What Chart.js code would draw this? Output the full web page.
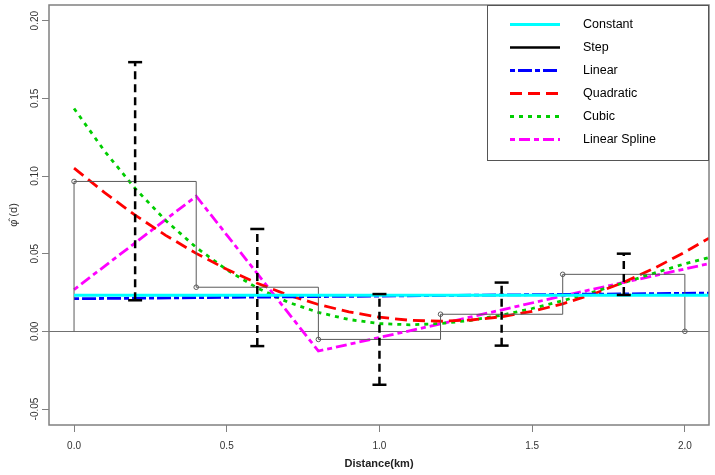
<!DOCTYPE html>
<html><head><meta charset="utf-8">
<script src="https://cdn.jsdelivr.net/npm/chart.js@4"></script>
<style>html,body{margin:0;padding:0;background:#fff}#wrap{width:715px;height:475px}</style>
</head><body><div id="wrap"><canvas id="c" width="715" height="475"></canvas></div>
<script>
// ---- data ----
const distanceGrid = [0,0.1,0.2,0.3,0.4,0.5,0.6,0.7,0.8,0.9,1.0,1.1,1.2,1.3,1.4,1.5,1.6,1.7,1.8,1.9,2.0,2.079];
const quadraticFit = [0.1051,0.0893,0.0748,0.0618,0.0502,0.0399,0.0310,0.0234,0.0173,0.0125,0.0091,0.0071,0.0065,0.0073,0.0094,0.0129,0.0177,0.0240,0.0316,0.0406,0.0510,0.0600];
const cubicFit     = [0.1435,0.1160,0.0920,0.0714,0.0540,0.0396,0.0279,0.0188,0.0122,0.0076,0.0050,0.0042,0.0050,0.0071,0.0104,0.0147,0.0197,0.0253,0.0313,0.0375,0.0435,0.0475];
const lineEnds     = [0, 2.079];
const constantFit  = [0.0232, 0.0232];
const linearFit    = [0.0210, 0.0246];
const splineKnots  = [0, 0.4, 0.8, 1.2, 1.6, 2.079];
const splineFit    = [0.0269, 0.0870, -0.0127, 0.0048, 0.0228, 0.0436];
const stepBreaks   = [0, 0, 0.4, 0.8, 1.2, 1.6, 2.0];
const stepValues   = [0, 0.0965, 0.0284, -0.0052, 0.0110, 0.0367, 0];
const errX         = [0.2, 0.6, 1.0, 1.4, 1.8];
const errLow       = [0.0200, -0.0095, -0.0344, -0.0092, 0.0234];
const errHigh      = [0.1733, 0.0659, 0.0240, 0.0314, 0.0500];
const xTickStep = 0.5, yTickStep = 0.05;

const pts = (xs, ys) => xs.map((x, i) => ({x, y: ys[i]}));
const errorPoints = [];
errX.forEach((x, i) => { errorPoints.push({x, y: errLow[i]}, {x, y: errHigh[i]}, {x, y: null}); });

Chart.defaults.font.family = '"Liberation Sans", Arial, Helvetica, sans-serif';

const framePlugin = {
  id: 'frameLegend',
  afterDraw(chart) {
    const {ctx, chartArea: a} = chart;
    ctx.save();
    ctx.strokeStyle = '#808080'; ctx.lineWidth = 1.5; ctx.setLineDash([]);
    ctx.strokeRect(a.left, a.top, a.width, a.height);
    const w = 222, h = 156, L = a.right - w, T = a.top;
    ctx.fillStyle = '#fff'; ctx.fillRect(L, T, w, h);
    ctx.strokeStyle = '#555'; ctx.lineWidth = 1;
    ctx.strokeRect(L + 0.5, T + 0.5, w - 1, h - 1);
    chart.data.datasets.filter(d => d.inLegend).forEach((d, i) => {
      const y = T + 19.5 + i * 23;
      ctx.beginPath();
      ctx.setLineDash(d.borderDash || []);
      ctx.strokeStyle = d.legendColor || d.borderColor;
      ctx.lineWidth = d.legendWidth || d.borderWidth;
      ctx.lineCap = 'butt';
      ctx.moveTo(L + 23, y); ctx.lineTo(L + 73, y); ctx.stroke();
      ctx.setLineDash([]);
      ctx.fillStyle = '#000';
      ctx.font = '12.5px "Liberation Sans", Arial, sans-serif';
      ctx.textBaseline = 'middle'; ctx.textAlign = 'left';
      ctx.fillText(d.label, L + 96, y);
    });
    ctx.restore();
  }
};

new Chart(document.getElementById('c'), {
  type: 'line',
  data: {
    datasets: [
      {label: 'Constant', inLegend: true, data: pts(lineEnds, constantFit), borderColor: '#00FFFF', borderWidth: 3, pointRadius: 0},
      {label: 'Step', inLegend: true, data: pts(stepBreaks, stepValues), stepped: 'before', borderColor: '#5a5a5a', borderWidth: 1,
       legendColor: '#000', legendWidth: 2.5,
       pointRadius: stepValues.map((v, i) => i === 0 ? 0 : 2.3), pointBorderColor: '#5a5a5a', pointBackgroundColor: 'rgba(255,255,255,0)', pointBorderWidth: 1},
      {label: 'Linear', inLegend: true, data: pts(lineEnds, linearFit), borderColor: '#0000FF', borderWidth: 2.8, borderDash: [5, 3, 14, 3], pointRadius: 0},
      {label: 'Quadratic', inLegend: true, data: pts(distanceGrid, quadraticFit), borderColor: '#FF0000', borderWidth: 2.8, borderDash: [12, 6], pointRadius: 0},
      {label: 'Cubic', inLegend: true, data: pts(distanceGrid, cubicFit), borderColor: '#00CD00', borderWidth: 2.8, borderDash: [4, 5], pointRadius: 0},
      {label: 'Linear Spline', inLegend: true, data: pts(splineKnots, splineFit), borderColor: '#FF00FF', borderWidth: 2.8, borderDash: [5, 4, 11, 4], pointRadius: 0},
      {label: 'CI', inLegend: false, order: -1, data: errorPoints, spanGaps: false, borderColor: '#000', borderWidth: 2.5, borderDash: [8, 5],
       pointStyle: 'line', pointRadius: 7, pointBorderColor: '#000', pointBorderWidth: 2.5}
    ]
  },
  options: {
    responsive: false, animation: false, devicePixelRatio: 1, events: [],
    layout: {autoPadding: false, padding: {top: 5, right: 6, left: 0, bottom: 0}},
    plugins: {legend: {display: false}, tooltip: {enabled: false}},
    scales: {
      x: {
        type: 'linear', min: -0.082, max: 2.079,
        afterFit(s) { s.height = 50; s.paddingLeft = 0; s.paddingRight = 0; },
        ticks: {stepSize: xTickStep, includeBounds: false, maxRotation: 0, padding: 8, font: {size: 10}, color: '#333', callback: v => v.toFixed(1)},
        grid: {drawOnChartArea: false, tickLength: 7, tickColor: '#808080'},
        border: {display: false},
        title: {display: true, text: 'Distance(km)', font: {size: 11, weight: 'bold'}, color: '#222', padding: {top: 0, bottom: 4.4}}
      },
      y: {
        type: 'linear', min: -0.0603, max: 0.2101,
        afterFit(s) { s.width = 49; s.paddingTop = 0; s.paddingBottom = 0; },
        ticks: {stepSize: yTickStep, includeBounds: false, minRotation: 90, maxRotation: 90, crossAlign: 'center', padding: -4.7, font: {size: 10}, color: '#333', callback: v => v.toFixed(2)},
        grid: {color: c => (c.tick && Math.abs(c.tick.value) < 1e-9) ? '#707070' : 'rgba(0,0,0,0)', tickColor: '#808080', tickLength: 7, lineWidth: 1},
        border: {display: false},
        title: {display: true, text: 'φ\u0302 (d)', font: {size: 11}, color: '#333', padding: {top: 7, bottom: 0}}
      }
    }
  },
  plugins: [framePlugin]
});
</script></body></html>
